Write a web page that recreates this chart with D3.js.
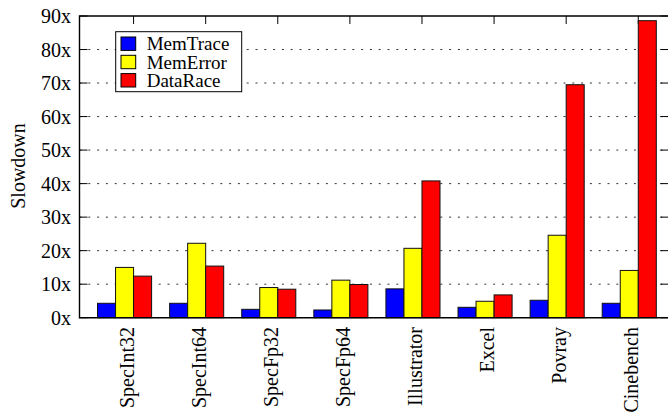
<!DOCTYPE html>
<html>
<head>
<meta charset="utf-8">
<script src="https://cdn.jsdelivr.net/npm/d3@7"></script>
<style>
  html, body { margin: 0; padding: 0; background: #fff; }
  svg { display: block; }
  text { font-family: "Liberation Serif", "Times New Roman", serif; fill: #000; }
</style>
</head>
<body>
<svg id="chart" width="668" height="415"></svg>
<script>
// Benchmarks on the x axis
const categories = ["SpecInt32", "SpecInt64", "SpecFp32", "SpecFp64", "Illustrator", "Excel", "Povray", "Cinebench"];
// Tools compared (one bar each per benchmark)
const seriesNames = ["MemTrace", "MemError", "DataRace"];
const seriesColors = ["#0000ff", "#ffff00", "#ff0000"];
// Slowdown factors per tool
const memTrace = [4.3, 4.3, 2.5, 2.3, 8.6, 3.1, 5.2, 4.3];
const memError = [15.0, 22.2, 9.0, 11.2, 20.7, 4.9, 24.6, 14.1];
const dataRace = [12.4, 15.4, 8.5, 9.9, 40.8, 6.8, 69.5, 88.6];
// Y axis ticks
const yTicks = [0, 10, 20, 30, 40, 50, 60, 70, 80, 90];
const yTickLabels = ["0x", "10x", "20x", "30x", "40x", "50x", "60x", "70x", "80x", "90x"];

const seriesValues = [memTrace, memError, dataRace];

const svg = d3.select("#chart");
const plotLeft = 79.5, plotTop = 16, plotBottom = 317.7, plotRight = 668.5;
const step = 72.1;

const x = d3.scaleBand().domain(categories).range([plotLeft, plotLeft + step * categories.length]).padding(0);
const xs = d3.scaleBand().domain(seriesNames).range([step / 4, step]).padding(0);
const y = d3.scaleLinear().domain([0, 90]).range([plotBottom, plotTop]);

// dotted horizontal grid
svg.append("g").selectAll("line")
  .data(yTicks.filter(d => d > 0 && d < 90))
  .join("line")
  .attr("x1", plotLeft).attr("x2", plotRight)
  .attr("y1", d => y(d)).attr("y2", d => y(d))
  .attr("stroke", "#000").attr("stroke-width", 1)
  .attr("stroke-dasharray", "2,6.8")
  .attr("opacity", 0.8);

// left / right y ticks
const tickLen = 8;
svg.append("g").selectAll("line")
  .data(yTicks).join("line")
  .attr("x1", plotLeft).attr("x2", plotLeft + tickLen)
  .attr("y1", d => y(d)).attr("y2", d => y(d))
  .attr("stroke", "#000").attr("stroke-width", 1);
svg.append("g").selectAll("line")
  .data(yTicks).join("line")
  .attr("x1", plotRight - tickLen).attr("x2", plotRight)
  .attr("y1", d => y(d)).attr("y2", d => y(d))
  .attr("stroke", "#000").attr("stroke-width", 1);

// category ticks on top and bottom
const tickX = c => x(c) + xs("DataRace");
svg.append("g").selectAll("line")
  .data(categories).join("line")
  .attr("x1", tickX).attr("x2", tickX)
  .attr("y1", plotTop).attr("y2", plotTop + tickLen)
  .attr("stroke", "#000").attr("stroke-width", 1);
svg.append("g").selectAll("line")
  .data(categories).join("line")
  .attr("x1", tickX).attr("x2", tickX)
  .attr("y1", plotBottom).attr("y2", plotBottom - tickLen)
  .attr("stroke", "#000").attr("stroke-width", 1);

// bars
const groups = svg.append("g").selectAll("g")
  .data(categories).join("g")
  .attr("transform", c => `translate(${x(c)},0)`);
groups.selectAll("rect")
  .data((c, i) => seriesNames.map((s, k) => ({ s, k, v: seriesValues[k][i] })))
  .join("rect")
  .attr("x", d => xs(d.s))
  .attr("width", xs.bandwidth())
  .attr("y", d => y(d.v))
  .attr("height", d => plotBottom - y(d.v))
  .attr("fill", d => seriesColors[d.k])
  .attr("stroke", "#111").attr("stroke-width", 1);

// frame
svg.append("path")
  .attr("d", `M${plotRight},${plotTop}H${plotLeft}V${plotBottom}H${plotRight}`)
  .attr("fill", "none").attr("stroke", "#000").attr("stroke-width", 1.4);

// y tick labels
svg.append("g").selectAll("text")
  .data(yTicks).join("text")
  .attr("x", 71).attr("y", d => y(d))
  .attr("dy", "0.36em")
  .attr("text-anchor", "end")
  .attr("font-size", 20)
  .text((d, i) => yTickLabels[i]);

// x category labels (rotated)
svg.append("g").selectAll("text")
  .data(categories).join("text")
  .attr("transform", c => `translate(${tickX(c)},327) rotate(-90)`)
  .attr("text-anchor", "end")
  .attr("font-size", 20)
  .text(c => c);

// y axis title
svg.append("text")
  .attr("transform", "translate(25,166) rotate(-90)")
  .attr("text-anchor", "middle")
  .attr("font-size", 20)
  .text("Slowdown");

// legend
const legend = svg.append("g");
legend.append("rect")
  .attr("x", 115.7).attr("y", 31.7)
  .attr("width", 126).attr("height", 60)
  .attr("fill", "#fff").attr("stroke", "#000").attr("stroke-width", 1);
const rows = legend.selectAll("g")
  .data(seriesNames).join("g")
  .attr("transform", (d, i) => `translate(0,${43.7 + i * 18.3})`);
rows.append("rect")
  .attr("x", 121).attr("y", -6.7)
  .attr("width", 14.7).attr("height", 13.4)
  .attr("fill", (d, i) => seriesColors[i])
  .attr("stroke", "#000").attr("stroke-width", 1);
rows.append("text")
  .attr("x", 146.7).attr("y", 0)
  .attr("dy", "0.35em")
  .attr("font-size", 19)
  .text(d => d);
</script>
</body>
</html>
